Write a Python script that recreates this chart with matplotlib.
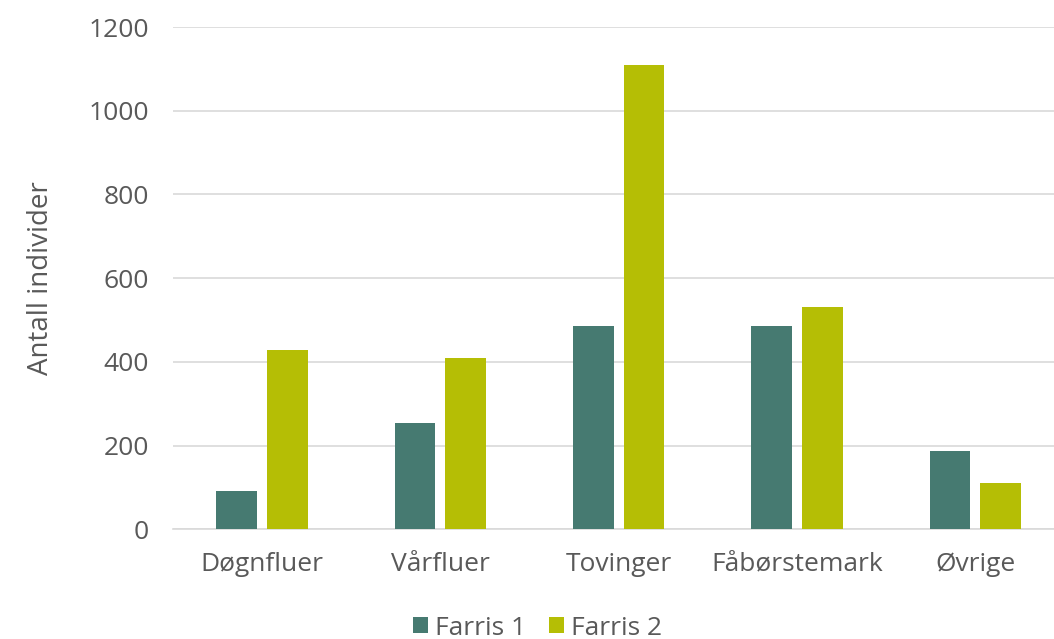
import numpy as np
import matplotlib
import matplotlib.pyplot as plt

matplotlib.use('agg')

grupper = ['Døgnfluer', 'Vårfluer', 'Tovinger', 'Fåbørstemark', 'Øvrige']
farris_1 = [91, 253, 486, 486, 188]
farris_2 = [428, 410, 1110, 530, 110]
yticks = [0, 200, 400, 600, 800, 1000, 1200]

tekst = '#595959'
plt.rcParams['font.family'] = ['Open Sans', 'DejaVu Sans']

fig = plt.figure(figsize=(10.54, 6.39), dpi=100)
ax = fig.add_axes([0.164, 0.1717, 0.846, 0.786])

x = np.arange(len(grupper))
w = 0.228
ax.bar(x - 0.142, farris_1, w, color='#467A71', label='Farris 1', zorder=3)
ax.bar(x + 0.142, farris_2, w, color='#B5BE05', label='Farris 2', zorder=3)

ax.set_xlim(-0.5, len(grupper) - 0.5)
ax.set_ylim(0, 1200)
ax.set_yticks(yticks)
ax.set_xticks(x)
ax.set_xticklabels(grupper)
ax.tick_params(axis='both', length=0, labelsize=19, colors=tekst)
ax.tick_params(axis='y', pad=17)
ax.tick_params(axis='x', pad=16)
ax.yaxis.grid(True, color='#D9D9D9', linewidth=1.2, zorder=0)
for s in ['top', 'right', 'left']:
    ax.spines[s].set_visible(False)
ax.spines['bottom'].set_color('#D9D9D9')
ax.spines['bottom'].set_linewidth(1.2)

ax.set_ylabel('Antall individer', fontsize=20, color=tekst, labelpad=24)

fig.legend(loc='center', bbox_to_anchor=(0.51, 0.017), ncol=2, frameon=False,
           fontsize=19, labelcolor=tekst, handlelength=0.55, handleheight=0.55,
           handletextpad=0.25, columnspacing=0.9)

fig.savefig('out.png', dpi=100)
